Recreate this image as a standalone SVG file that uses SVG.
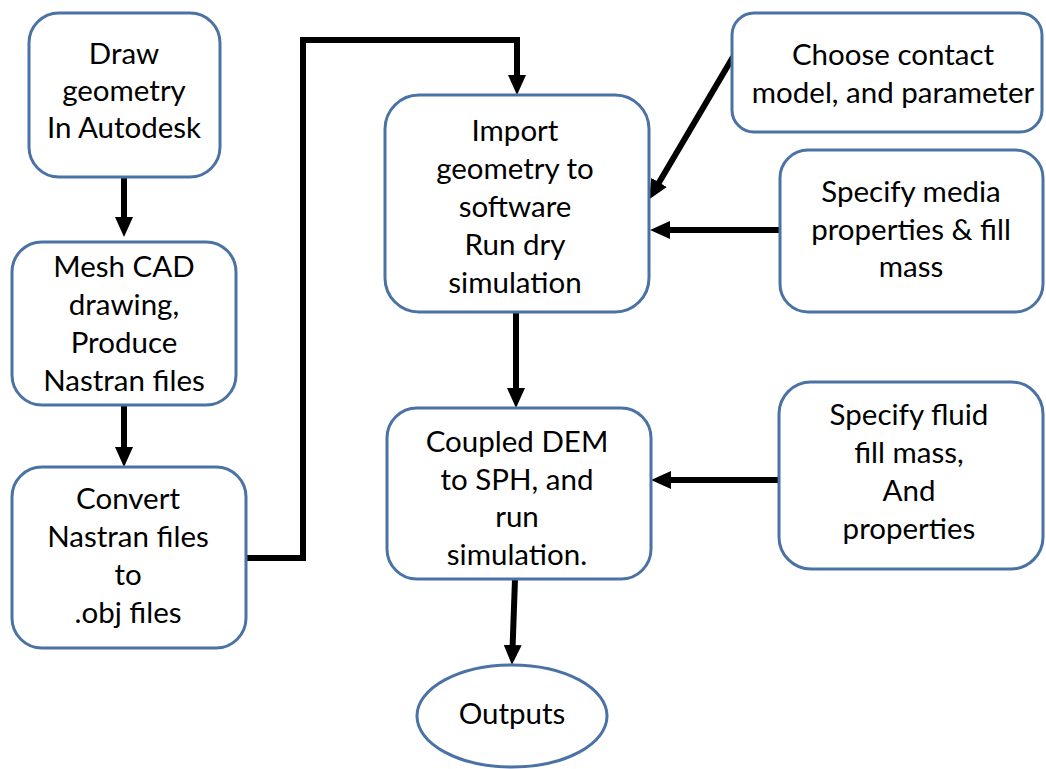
<svg xmlns="http://www.w3.org/2000/svg" width="1046" height="769" viewBox="0 0 1046 769">
<style>
.box{fill:#ffffff;stroke:#4a72a4;stroke-width:3}
.t{font-family:Lato,"Liberation Sans",sans-serif;font-size:29.5px;fill:#000;text-anchor:middle}
.c{fill:none;stroke:#000;stroke-width:6}
</style>
<defs>
<marker id="ah" markerUnits="userSpaceOnUse" markerWidth="20" markerHeight="18" refX="10" refY="9" orient="auto">
<path d="M0,0 L20,9 L0,18 z" fill="#000"/>
</marker>
</defs>
<rect width="1046" height="769" fill="#ffffff"/>
<g id="connectors">
<path class="c" d="M124,177 V227" marker-end="url(#ah)"/>
<path class="c" d="M124,405 V457" marker-end="url(#ah)"/>
<path class="c" d="M246,558 H303 V40 H517 V85" marker-end="url(#ah)"/>
<path class="c" d="M733,57 L654,191" marker-end="url(#ah)"/>
<path class="c" d="M780,230 H660" marker-end="url(#ah)"/>
<path class="c" d="M516,312 V398" marker-end="url(#ah)"/>
<path class="c" d="M779,480 H661" marker-end="url(#ah)"/>
<path class="c" d="M515,579 L512.3,655" marker-end="url(#ah)"/>
</g>
<g id="draw">
<rect class="box" x="29" y="13" width="191" height="164" rx="30"/>
<text class="t" x="124" y="64">Draw</text>
<text class="t" x="124" y="101">geometry</text>
<text class="t" x="124" y="138">In Autodesk</text>
</g>
<g id="mesh">
<rect class="box" x="12" y="242" width="224" height="163" rx="30"/>
<text class="t" x="124" y="277">Mesh CAD</text>
<text class="t" x="124" y="315">drawing,</text>
<text class="t" x="124" y="353">Produce</text>
<text class="t" x="124" y="391">Nastran files</text>
</g>
<g id="convert">
<rect class="box" x="12" y="467" width="234" height="181" rx="30"/>
<text class="t" x="128" y="509">Convert</text>
<text class="t" x="128" y="547">Nastran files</text>
<text class="t" x="128" y="585">to</text>
<text class="t" x="128" y="623">.obj files</text>
</g>
<g id="import">
<rect class="box" x="385" y="95" width="264" height="217" rx="34"/>
<text class="t" x="515" y="141">Import</text>
<text class="t" x="515" y="179">geometry to</text>
<text class="t" x="515" y="217">software</text>
<text class="t" x="515" y="255">Run dry</text>
<text class="t" x="515" y="293">simulation</text>
</g>
<g id="contact">
<rect class="box" x="732" y="13" width="310" height="119" rx="22"/>
<text class="t" x="893" y="65">Choose contact</text>
<text class="t" x="893" y="103">model, and parameter</text>
</g>
<g id="media">
<rect class="box" x="780" y="150" width="263" height="162" rx="28"/>
<text class="t" x="911" y="202">Specify media</text>
<text class="t" x="911" y="240">properties &amp; fill</text>
<text class="t" x="911" y="277">mass</text>
</g>
<g id="coupled">
<rect class="box" x="387" y="408" width="264" height="171" rx="30"/>
<text class="t" x="517" y="452">Coupled DEM</text>
<text class="t" x="517" y="490">to SPH, and</text>
<text class="t" x="517" y="527">run</text>
<text class="t" x="517" y="565">simulation.</text>
</g>
<g id="fluid">
<rect class="box" x="779" y="382" width="264" height="187" rx="32"/>
<text class="t" x="909" y="425">Specify fluid</text>
<text class="t" x="909" y="463">fill mass,</text>
<text class="t" x="909" y="501">And</text>
<text class="t" x="909" y="539">properties</text>
</g>
<g id="outputs">
<ellipse class="box" cx="512" cy="716" rx="95" ry="51"/>
<text class="t" x="512" y="724">Outputs</text>
</g>
</svg>
